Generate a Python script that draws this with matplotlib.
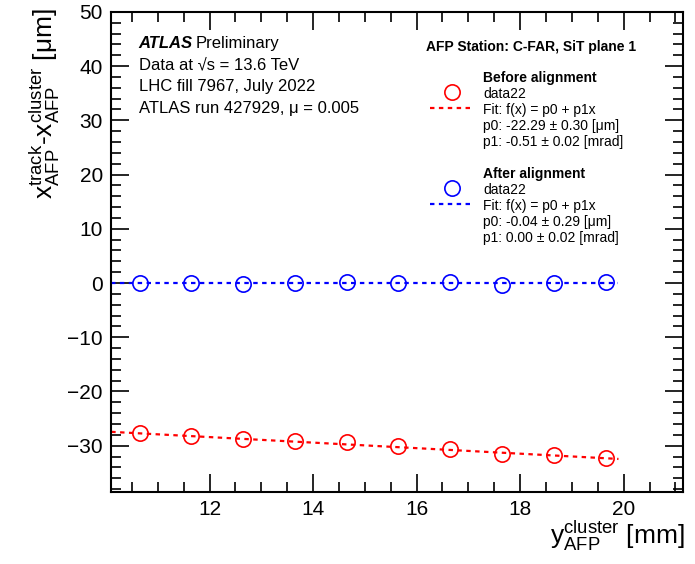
import numpy as np
import matplotlib.pyplot as plt
from matplotlib.ticker import MultipleLocator

plt.rcParams['font.family'] = ['Liberation Sans', 'DejaVu Sans']
plt.rcParams['mathtext.fontset'] = 'custom'
plt.rcParams['mathtext.rm'] = 'Liberation Sans'
plt.rcParams['mathtext.it'] = 'Liberation Sans'

# data
y_cluster = [10.65, 11.65, 12.65, 13.65, 14.65, 15.65, 16.65, 17.65, 18.65, 19.65]
before = [-27.7, -28.2, -28.8, -29.1, -29.4, -30.1, -30.6, -31.5, -31.8, -32.2]
after = [0.0, 0.0, -0.1, 0.0, 0.2, 0.0, 0.2, -0.3, 0.0, 0.2]

# fit parameters (p0 [um], p1 [mrad])
fit_before = (-22.29, -0.51)
fit_after = (-0.04, 0.00)
fit_range = (10.1, 19.9)

fig = plt.figure(figsize=(6.95, 5.64), dpi=100)
ax = fig.add_axes([0.16, 0.128, 0.823, 0.851])

xf = np.linspace(fit_range[0], fit_range[1], 50)
ax.plot(xf, fit_before[0] + fit_before[1] * xf, ls=(0, (2, 2)), color='#ff0000', lw=1.6)
ax.plot(xf, fit_after[0] + fit_after[1] * xf, ls=(0, (2, 2)), color='#0000ff', lw=1.6)
ax.plot(y_cluster, before, 'o', mfc='none', mec='#ff0000', ms=11, mew=1.2)
ax.plot(y_cluster, after, 'o', mfc='none', mec='#0000ff', ms=11, mew=1.2)

ax.set_xlim(10.1, 21.15)
ax.set_ylim(-38.5, 50)
ax.xaxis.set_major_locator(MultipleLocator(2))
ax.xaxis.set_minor_locator(MultipleLocator(0.5))
ax.yaxis.set_major_locator(MultipleLocator(10))
ax.yaxis.set_minor_locator(MultipleLocator(2))
ax.tick_params(which='both', direction='in', top=True, right=True, labelsize=15, width=1.2)
ax.tick_params(which='major', length=13, pad=6)
ax.tick_params(which='minor', length=7)
for s in ax.spines.values():
    s.set_linewidth(1.5)

fig.text(0.985, 0.02, r'y$_{\rm AFP}^{\rm cluster}$ [mm]', ha='right', va='bottom', fontsize=19)
fig.text(0.04, 0.985, r'x$_{\rm AFP}^{\rm track}$-x$_{\rm AFP}^{\rm cluster}$ [$\mu$m]',
         rotation=90, ha='left', va='top', fontsize=19)

# ATLAS label block
ax.text(0.048, 0.925, 'ATLAS', transform=ax.transAxes, fontsize=12, fontweight='bold', style='italic')
ax.text(0.148, 0.925, 'Preliminary', transform=ax.transAxes, fontsize=12)
info = ['Data at \u221as = 13.6 TeV', 'LHC fill 7967, July 2022', 'ATLAS run 427929, \u03bc = 0.005']
for i, t in enumerate(info):
    ax.text(0.048, 0.88 - i * 0.045, t, transform=ax.transAxes, fontsize=12)

# legend block
ax.text(0.551, 0.918, 'AFP Station: C-FAR, SiT plane 1', transform=ax.transAxes, fontsize=10, fontweight='bold')
blocks = [('Before alignment', '#ff0000', ['-22.29 \u00b1 0.30', '-0.51 \u00b1 0.02'], 0.853),
          ('After alignment', '#0000ff', ['-0.04 \u00b1 0.29', '0.00 \u00b1 0.02'], 0.653)]
for title, col, vals, y0 in blocks:
    ax.text(0.65, y0, title, transform=ax.transAxes, fontsize=10, fontweight='bold')
    lines = ['data22', 'Fit: f(x) = p0 + p1x', 'p0: %s [\u03bcm]' % vals[0], 'p1: %s [mrad]' % vals[1]]
    for i, t in enumerate(lines):
        ax.text(0.65, y0 - 0.033 - i * 0.033, t, transform=ax.transAxes, fontsize=10)
    ax.plot([0.595], [y0 - 0.021], 'o', mfc='none', mec=col, ms=11, mew=1.2, transform=ax.transAxes)
    ax.plot([0.557, 0.635], [y0 - 0.054, y0 - 0.054], ls=(0, (2, 2)), color=col, lw=1.6, transform=ax.transAxes)

fig.savefig('out.png', dpi=100)
